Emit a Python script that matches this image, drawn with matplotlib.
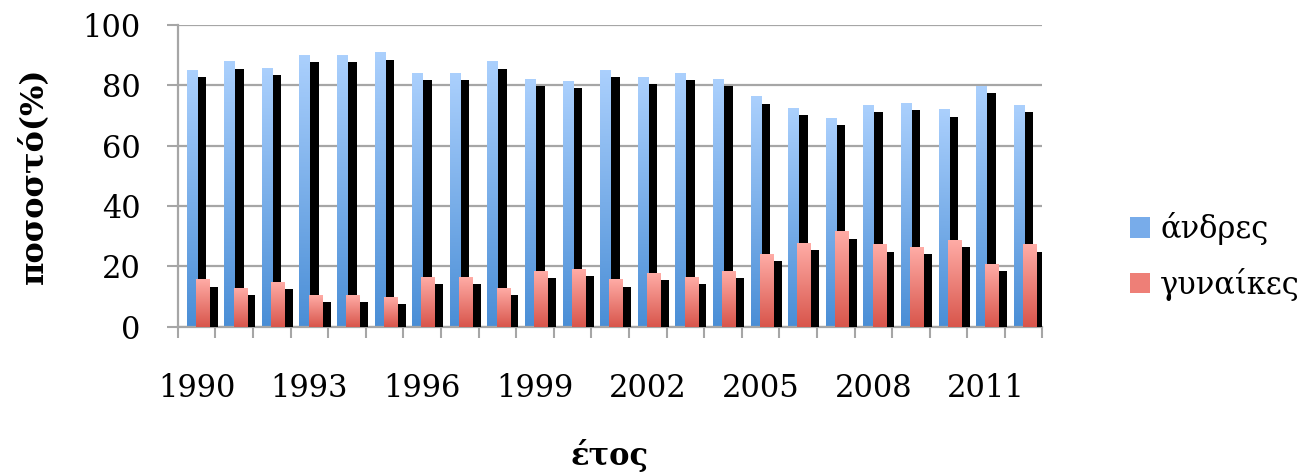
import numpy as np
import matplotlib
matplotlib.use('Agg')
import matplotlib.pyplot as plt
from matplotlib.patches import Patch
from matplotlib.colors import LinearSegmentedColormap

plt.rcParams['font.family'] = ['DejaVu Serif']

# ====== 数据 ======
years = list(range(1990, 2013))
men = [85.0, 87.9, 85.7, 90.0, 90.0, 90.9, 84.2, 84.2, 87.9, 82.0, 81.4, 85.0,
       82.8, 84.2, 82.0, 76.3, 72.6, 69.1, 73.4, 74.1, 72.0, 79.8, 73.4]
women = [15.6, 12.7, 14.9, 10.6, 10.6, 9.8, 16.4, 16.4, 12.7, 18.4, 19.2, 15.6,
         17.8, 16.4, 18.4, 24.2, 27.8, 31.5, 27.2, 26.4, 28.6, 20.7, 27.2]
series_names = ['άνδρες', 'γυναίκες']

# ====== 样式 ======
blue_top, blue_bot = '#abd0fd', '#4a8ed6'
red_top, red_bot = '#ffaca6', '#d8554b'
blue_cmap = LinearSegmentedColormap.from_list('b', [blue_bot, blue_top])
red_cmap = LinearSegmentedColormap.from_list('r', [red_bot, red_top])
grid_col = '#a6a6a6'

fig = plt.figure(figsize=(13.08, 4.75), dpi=100)
ax = fig.add_axes([0.136, 0.312, 0.661, 0.635])

x = np.arange(len(years))
w_men, w_women = 0.29, 0.35
off_men, off_women = -0.12, 0.155
sh_dx, sh_dy = 0.23, 2.3

grad = np.linspace(0, 1, 256).reshape(-1, 1)


def gradient_bars(xs, vals, width, cmap, z):
    # 阴影 + 渐变柱
    ax.bar(xs + sh_dx, np.array(vals) - sh_dy, width=width, color='black', zorder=z)
    for xi, v in zip(xs, vals):
        ax.imshow(grad, extent=[xi - width / 2, xi + width / 2, 0, v],
                  origin='lower', aspect='auto', cmap=cmap, zorder=z + 0.5,
                  interpolation='bilinear')


gradient_bars(x + off_men, men, w_men, blue_cmap, 2)
gradient_bars(x + off_women, women, w_women, red_cmap, 3)

ax.set_xlim(-0.5, len(years) - 0.5)
ax.set_ylim(0, 100)

# ====== 坐标轴 ======
ax.set_yticks(range(0, 101, 20))
ax.yaxis.grid(True, color=grid_col, linewidth=1.6, zorder=0)
ax.set_axisbelow(True)

ax.set_xticks(x[::3])
ax.set_xticklabels([str(y) for y in years[::3]])
ax.set_xticks(np.arange(-0.5, len(years), 1.0), minor=True)
ax.tick_params(axis='x', which='major', length=0, pad=33, labelsize=22)
ax.tick_params(axis='x', which='minor', length=8, width=1.5, color=grid_col,
               direction='out')
ax.tick_params(axis='y', length=8, width=1.5, color=grid_col, pad=19, labelsize=22)

for s in ['top', 'right']:
    ax.spines[s].set_visible(False)
for s in ['left', 'bottom']:
    ax.spines[s].set_color(grid_col)
    ax.spines[s].set_linewidth(1.6)

ax.set_ylabel('ποσοστό(%)', fontsize=23, fontweight='bold', labelpad=24)
fig.text(0.466, 0.04, 'έτος', fontsize=22, fontweight='bold', ha='center', va='center')

handles = [Patch(facecolor='#78acea'), Patch(facecolor='#ee7f77')]
fig.legend(handles, series_names, loc='center left', bbox_to_anchor=(0.852, 0.46),
           frameon=False, fontsize=22, handlelength=0.65, handleheight=0.65,
           handletextpad=0.35, labelspacing=0.75, borderpad=0)

plt.savefig('out.png', dpi=100)
